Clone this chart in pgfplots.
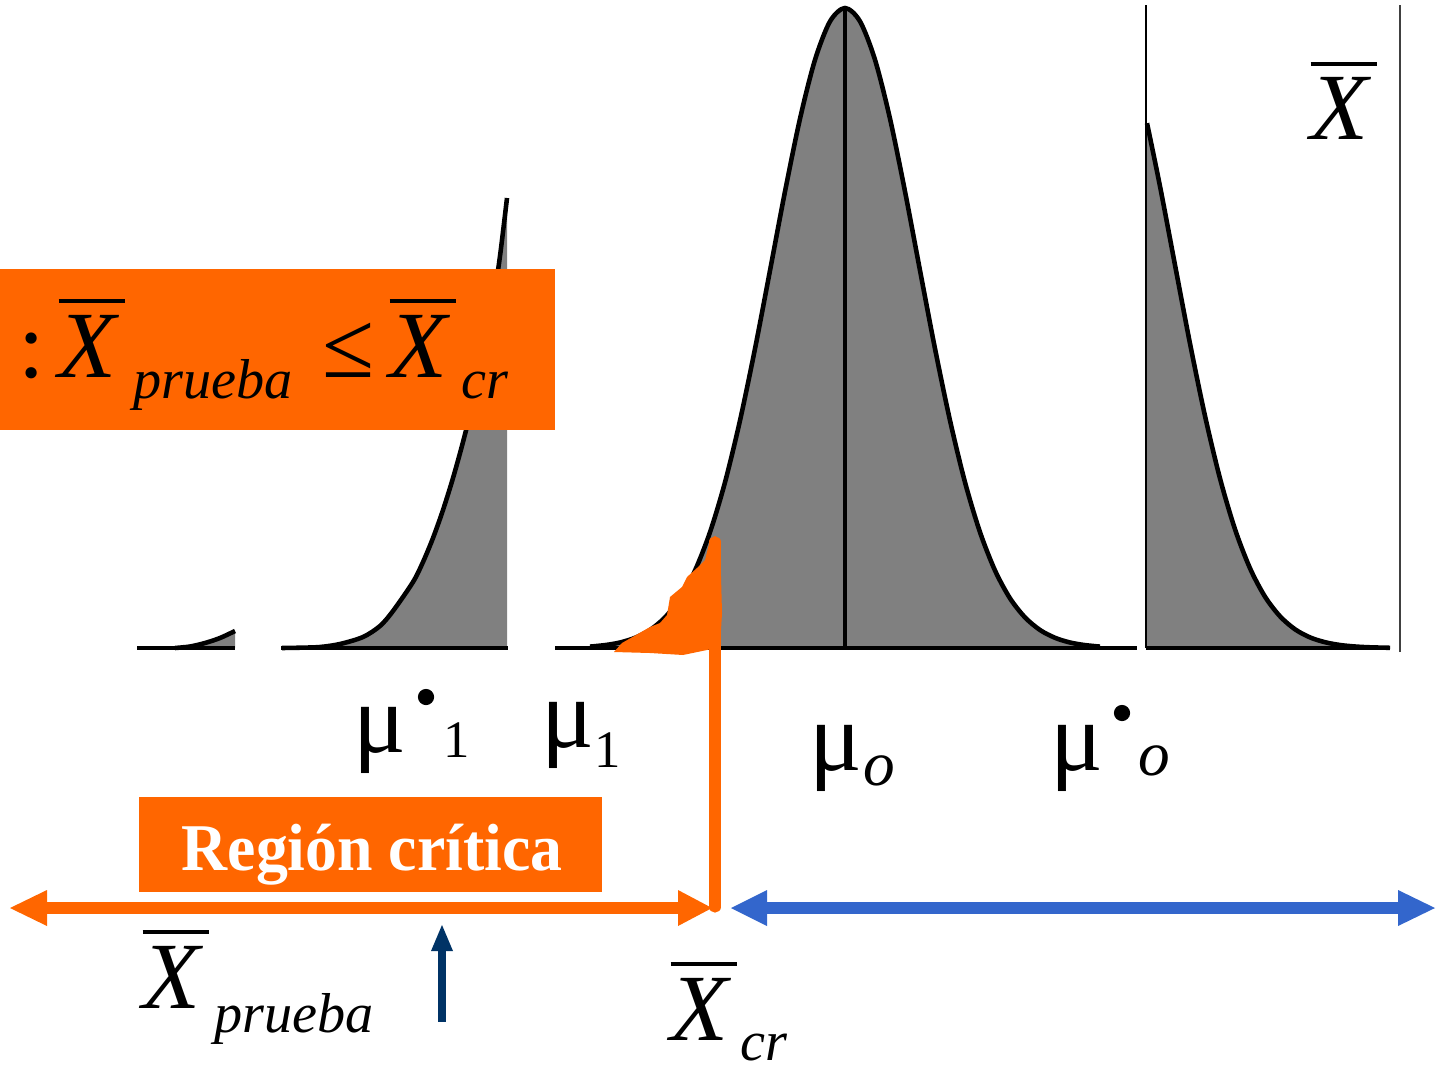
\documentclass[border=0pt]{standalone}
\usepackage{pgfplots}
\pgfplotsset{compat=1.18}
\usepgfplotslibrary{fillbetween}
\usepackage{graphicx}
\usepackage{fontspec}
\setmainfont{Liberation Serif}
\definecolor{orng}{HTML}{FF6600}
\definecolor{blu}{HTML}{3366CC}
\definecolor{navy}{HTML}{003366}
\definecolor{gfill}{HTML}{808080}
\newcommand{\xbar}{\vbox{\hrule height 1.1pt\kern 3.5pt\hbox{\itshape X\kern 2.5pt}}}
\begin{document}
\begin{tikzpicture}
\begin{axis}[width=144.1mm,height=107.3mm,scale only axis,
  xmin=0,xmax=1441,ymin=0,ymax=1073,hide axis,clip=false]
\addplot[draw=none] coordinates {(0,0)(1441,1073)};
% ---- left tiny tail
\addplot[name path=L1, black, line width=1.3pt, smooth] coordinates {(175,425)(190,426.5)(205,430)(220,435)(235,442)};
\addplot[name path=B1, draw=none] coordinates {(175,425)(235,425)};
\addplot[fill=gfill, draw=none] fill between[of=L1 and B1];
% ---- left segment
\addplot[name path=L2, black, line width=1.3pt, smooth] coordinates {(282,425)(300,425.3)(320,426)(340,429)(363,436)(380,447)(393,462)(413,491)(423,511)(433,535)(443,563)(453,595)(463,631)(473,671)(483,717)(493,770)(500,817)(507,875)};
\addplot[name path=B2, draw=none] coordinates {(282,425)(507,425)};
\addplot[fill=gfill, draw=none] fill between[of=L2 and B2];
% ---- main curve
\addplot[name path=M, black, line width=1.3pt, smooth] coordinates {
(590,426.4)(605,427.9)(620,430.5)(635,435.2)(650,443.0)(665,455.6)(680,474.7)(695,502.5)(710,540.8)(725,590.7)(740,652.5)(755,724.3)(770,802.5)(785,881.5)(800,954.3)(815,1013.2)(830,1051.6)(845,1065)(860,1051.6)(875,1013.2)(890,954.3)(905,881.5)(920,802.5)(935,724.3)(950,652.5)(965,590.7)(980,540.8)(995,502.5)(1010,474.7)(1025,455.6)(1040,443.0)(1055,435.2)(1070,430.5)(1085,427.9)(1100,426.4)};
\addplot[name path=BM, draw=none] coordinates {(590,425)(1100,425)};
\addplot[fill=gfill, draw=none] fill between[of=M and BM];
\addplot[black, line width=1.3pt] coordinates {(845,425)(845,1065)};
% ---- right segment
\addplot[name path=R, black, line width=1.3pt, smooth] coordinates {
(1147,949.8)(1160,886.7)(1175,807.9)(1190,729.4)(1205,657)(1220,594.5)(1235,543.7)(1250,504.7)(1265,476.3)(1280,456.7)(1295,443.7)(1310,435.6)(1325,430.8)(1340,428)(1355,426.5)(1370,425.7)(1390,425.2)};
\addplot[name path=BR, draw=none] coordinates {(1147,425)(1390,425)};
\addplot[fill=gfill, draw=none] fill between[of=R and BR];
\addplot[black, line width=0.6pt] coordinates {(1146,425)(1146,1068)};
\addplot[black!75, line width=0.8pt] coordinates {(1400,421)(1400,1068)};
% ---- baselines
\addplot[black, line width=1.2pt] coordinates {(137,425)(235,425)};
\addplot[black, line width=1.2pt] coordinates {(281,425)(508,425)};
\addplot[black, line width=1.2pt] coordinates {(555,425)(1137,425)};
\addplot[black, line width=1.2pt] coordinates {(1146,425)(1390,425)};
% ---- orange blob and vertical line
\addplot[fill=orng, draw=none] coordinates {(614,421)(622,430)(650,446)(660,450)(667,458)(670,476)(682,486)(687,496)(697,505)(705,513)(710,533)(715,537)(720,533)(722,460)(720,426)(707,423)(683,418)(650,420)(614,421)};
\addplot[orng, line width=3.2pt, line cap=round] coordinates {(715,531)(715,166)};
% ---- boxes
\addplot[fill=orng, draw=none] coordinates {(0,643)(555,643)(555,804)(0,804)};
\addplot[fill=orng, draw=none] coordinates {(139,181)(602,181)(602,276)(139,276)};
% ---- orange arrow
\addplot[fill=orng, draw=none] coordinates {(40,159)(685,159)(685,171)(40,171)};
\addplot[fill=orng, draw=none] coordinates {(10,165)(47,183)(47,147)};
\addplot[fill=orng, draw=none] coordinates {(712,165)(678,183)(678,147)};
% ---- blue arrow
\addplot[fill=blu, draw=none] coordinates {(760,159)(1405,159)(1405,171)(760,171)};
\addplot[fill=blu, draw=none] coordinates {(731,165)(767,183)(767,147)};
\addplot[fill=blu, draw=none] coordinates {(1435,165)(1398,183)(1398,147)};
% ---- navy arrow
\addplot[fill=navy, draw=none] coordinates {(438,51)(446,51)(446,128)(438,128)};
\addplot[fill=navy, draw=none] coordinates {(442,148)(431,122)(453,122)};
% ---- bullets
\addplot[only marks, mark=*, mark size=2.1pt, black] coordinates {(426,376)(1122,360)};
% ---- texts
\node[anchor=base west, inner sep=0, font=\fontsize{27}{27}\selectfont] at (axis cs:18,696) {:};
\node[anchor=base west, inner sep=0, font=\fontsize{27}{27}\selectfont] at (axis cs:58,696) {\xbar};
\node[anchor=base west, inner sep=0, font=\fontsize{16}{16}\selectfont\itshape] at (axis cs:133,675) {prueba};
\node[anchor=base west, inner sep=0, font=\fontsize{27}{27}\selectfont] at (axis cs:322,696) {≤};
\node[anchor=base west, inner sep=0, font=\fontsize{27}{27}\selectfont] at (axis cs:389,696) {\xbar};
\node[anchor=base west, inner sep=0, font=\fontsize{16}{16}\selectfont\itshape] at (axis cs:461,675) {cr};
\node[anchor=base west, inner sep=0, font=\fontsize{19}{19}\selectfont\bfseries, text=white] at (axis cs:181,203) {\scalebox{0.955}[1]{Región crítica}};
\node[anchor=base west, inner sep=0, font=\fontsize{27}{27}\selectfont] at (axis cs:1310,933) {\xbar};
\node[anchor=base west, inner sep=0, font=\fontsize{27}{27}\selectfont] at (axis cs:142,65) {\xbar};
\node[anchor=base west, inner sep=0, font=\fontsize{16}{16}\selectfont\itshape] at (axis cs:214,41) {prueba};
\node[anchor=base west, inner sep=0, font=\fontsize{27}{27}\selectfont] at (axis cs:670,33) {\xbar};
\node[anchor=base west, inner sep=0, font=\fontsize{16}{16}\selectfont\itshape] at (axis cs:740,13) {cr};
% mu labels
\node[anchor=base west, inner sep=0, font=\fontsize{28}{28}\selectfont] at (axis cs:353,321) {μ};
\node[anchor=base west, inner sep=0, font=\fontsize{15}{15}\selectfont] at (axis cs:443,316) {1};
\node[anchor=base west, inner sep=0, font=\fontsize{28}{28}\selectfont] at (axis cs:541,326) {μ};
\node[anchor=base west, inner sep=0, font=\fontsize{15}{15}\selectfont] at (axis cs:594,306) {1};
\node[anchor=base west, inner sep=0, font=\fontsize{28}{28}\selectfont] at (axis cs:809,303) {μ};
\node[anchor=base west, inner sep=0, font=\fontsize{18}{18}\selectfont\itshape] at (axis cs:863,288) {o};
\node[anchor=base west, inner sep=0, font=\fontsize{28}{28}\selectfont] at (axis cs:1050,303) {μ};
\node[anchor=base west, inner sep=0, font=\fontsize{18}{18}\selectfont\itshape] at (axis cs:1138,298) {o};
\end{axis}
\end{tikzpicture}
\end{document}
